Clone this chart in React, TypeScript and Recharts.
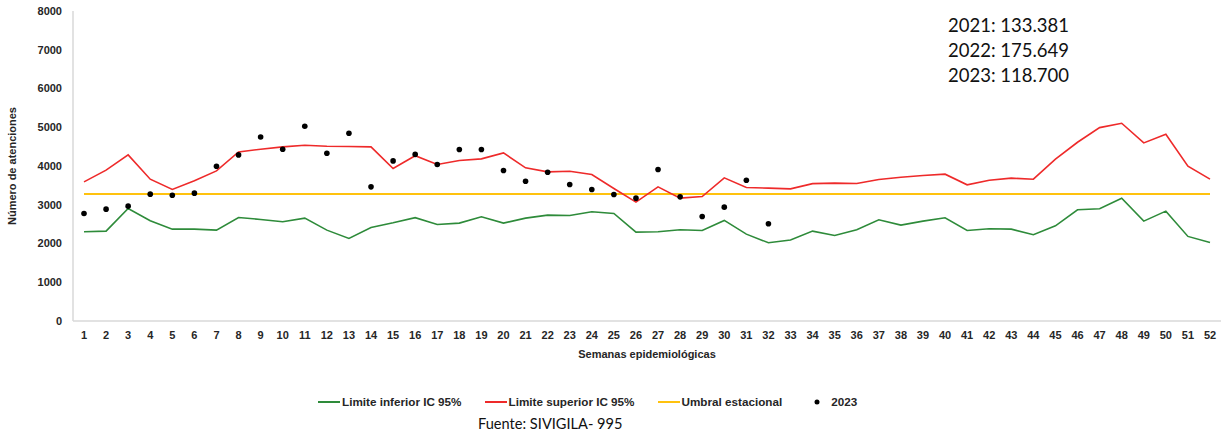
import { LineChart, Line, XAxis, YAxis } from "recharts";

const weeks = Array.from({ length: 52 }, (_, i) => i + 1);

const limiteInferior = [
  2302, 2320, 2904, 2586, 2371, 2371, 2345, 2672, 2620, 2560,
  2655, 2345, 2131, 2414, 2534, 2668, 2492, 2526, 2689, 2526,
  2655, 2732, 2723, 2818, 2775, 2294, 2302, 2354, 2337, 2595,
  2242, 2019, 2088, 2320, 2208, 2354, 2612, 2474, 2577, 2663,
  2337, 2380, 2371, 2225, 2457, 2870, 2896, 3170, 2577, 2835,
  2183, 2028,
];

const limiteSuperior = [
  3590, 3892, 4286, 3660, 3394, 3617, 3874, 4364, 4433, 4493,
  4536, 4510, 4502, 4493, 3935, 4265, 4038, 4141, 4184, 4338,
  3952, 3849, 3866, 3780, 3420, 3067, 3462, 3170, 3213, 3694,
  3445, 3428, 3411, 3544, 3557, 3548, 3651, 3711, 3754, 3789,
  3514, 3634, 3686, 3660, 4175, 4613, 4991, 5103, 4596, 4820,
  3995, 3660,
];

const umbralEstacional = 3280;

// casos 2023 hasta la semana 32
const casos2023 = [
  2776, 2887, 2964, 3273, 3247, 3299, 3995, 4286, 4750, 4433,
  5026, 4330, 4845, 3462, 4132, 4300, 4038, 4424, 4424, 3883,
  3608, 3840, 3522, 3393, 3265, 3170, 3909, 3204, 2698, 2938,
  3634, 2508,
];

const yTicks = [0, 1000, 2000, 3000, 4000, 5000, 6000, 7000, 8000];

const totales = ["2021: 133.381", "2022: 175.649", "2023: 118.700"];

const data = weeks.map((w, i) => ({
  semana: w,
  inferior: limiteInferior[i],
  superior: limiteSuperior[i],
  umbral: umbralEstacional,
  y2023: i < casos2023.length ? casos2023[i] : null,
}));

const FONT = "'Liberation Sans', Arial, sans-serif";
const GREEN = "#2e8b3a";
const RED = "#ee2a2a";
const YELLOW = "#ffc20e";

const legendItems = [
  { label: "Limite inferior IC 95%", color: GREEN, type: "line" },
  { label: "Limite superior IC 95%", color: RED, type: "line" },
  { label: "Umbral estacional", color: YELLOW, type: "line" },
  { label: "2023", color: "#000", type: "dot" },
];

const axisText = { fontSize: 11, fontWeight: 700, fill: "#262626", fontFamily: FONT };

export default function App() {
  return (
    <div
      style={{
        position: "absolute",
        left: 0,
        top: 0,
        width: 1226,
        height: 438,
        background: "#fff",
      }}
    >
      <LineChart
        width={1226}
        height={438}
        data={data}
        margin={{ top: 11, right: 5, left: 0, bottom: 77 }}
      >
        <XAxis
          dataKey="semana"
          height={40}
          interval={0}
          padding={{ left: 11, right: 11 }}
          tickLine={false}
          tickSize={0}
          tickMargin={10}
          axisLine={{ stroke: "#d9d9d9", strokeWidth: 1.5 }}
          tick={axisText}
          label={{
            value: "Semanas epidemiológicas",
            position: "insideBottom",
            offset: 3,
            style: axisText,
          }}
        />
        <YAxis
          width={73}
          domain={[0, 8000]}
          ticks={yTicks}
          interval={0}
          tickLine={false}
          tickSize={0}
          tickMargin={11}
          axisLine={{ stroke: "#d9d9d9", strokeWidth: 1.5 }}
          tick={axisText}
          label={{
            value: "Número de atenciones",
            angle: -90,
            position: "insideLeft",
            offset: 12,
            style: { ...axisText, textAnchor: "middle" },
          }}
        />
        <Line
          dataKey="umbral"
          stroke={YELLOW}
          strokeWidth={2}
          dot={false}
          isAnimationActive={false}
        />
        <Line
          dataKey="inferior"
          stroke={GREEN}
          strokeWidth={1.6}
          dot={false}
          isAnimationActive={false}
        />
        <Line
          dataKey="superior"
          stroke={RED}
          strokeWidth={1.6}
          dot={false}
          isAnimationActive={false}
        />
        <Line
          dataKey="y2023"
          stroke="none"
          dot={{ r: 2.8, fill: "#000", stroke: "none" }}
          activeDot={false}
          isAnimationActive={false}
        />
      </LineChart>

      <div
        style={{
          position: "absolute",
          left: 948,
          top: 13,
          fontFamily: "Lato, 'Open Sans', sans-serif",
          fontSize: 18.5,
          lineHeight: "25px",
          color: "#111",
        }}
      >
        {totales.map((t) => (
          <div key={t}>{t}</div>
        ))}
      </div>

      <div
        style={{
          position: "absolute",
          left: 318,
          top: 395,
          display: "flex",
          alignItems: "center",
          fontFamily: FONT,
          fontSize: 11.7,
          fontWeight: 700,
          color: "#262626",
          whiteSpace: "nowrap",
        }}
      >
        {legendItems.map((it) => (
          <div
            key={it.label}
            style={{ display: "flex", alignItems: "center", marginRight: 23 }}
          >
            {it.type === "line" ? (
              <svg width={24} height={10}>
                <line x1={0} y1={5} x2={22} y2={5} stroke={it.color} strokeWidth={2} />
              </svg>
            ) : (
              <svg width={18} height={10} style={{ marginLeft: 8 }}>
                <circle cx={4} cy={5} r={2.5} fill={it.color} />
              </svg>
            )}
            <span>{it.label}</span>
          </div>
        ))}
      </div>

      <div
        style={{
          position: "absolute",
          left: 478,
          top: 415,
          fontFamily: "Lato, 'Open Sans', sans-serif",
          fontSize: 14.6,
          color: "#111",
        }}
      >
        Fuente: SIVIGILA- 995
      </div>
    </div>
  );
}
